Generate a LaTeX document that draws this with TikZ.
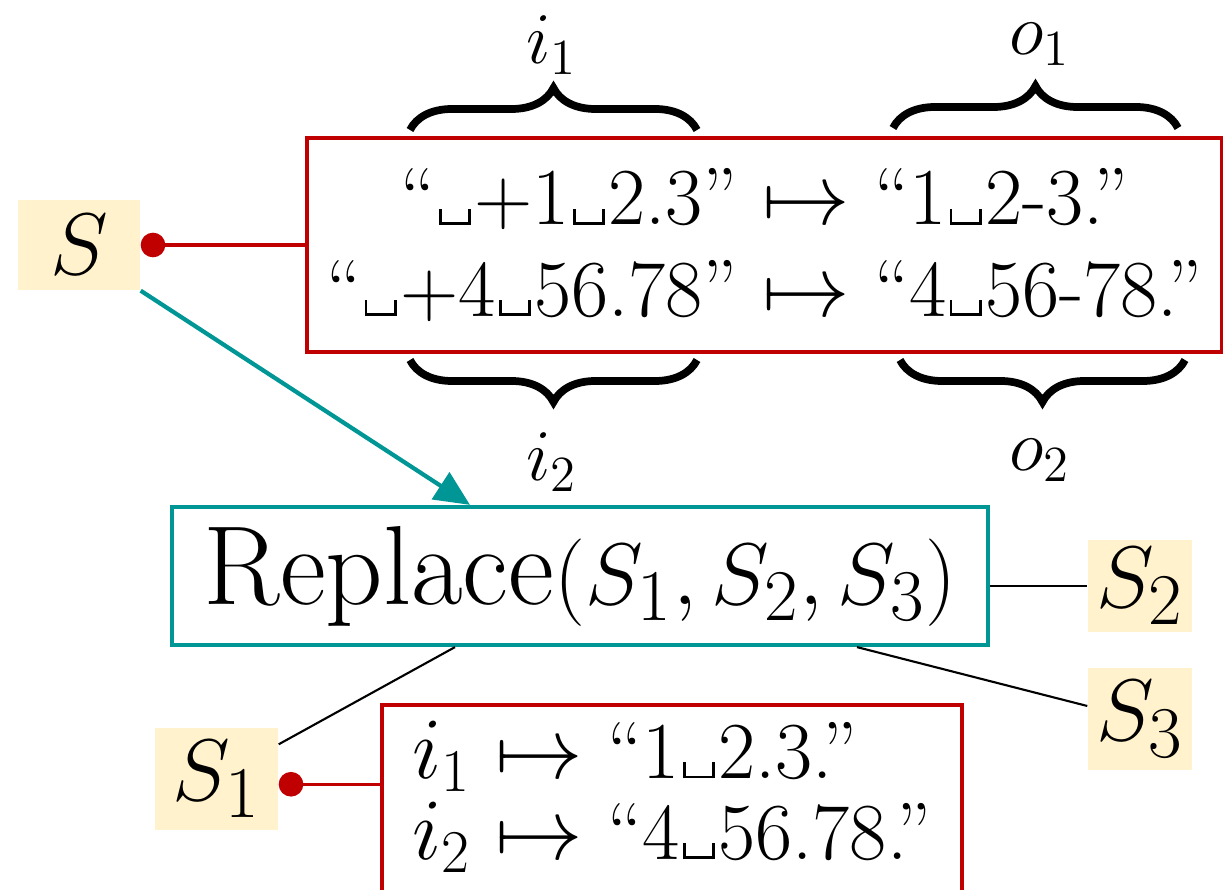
\documentclass[tikz,border=0pt]{standalone}
\usetikzlibrary{decorations.pathreplacing,arrows.meta}
\definecolor{exred}{RGB}{192,0,0}
\definecolor{opteal}{RGB}{0,150,150}
\definecolor{varfill}{RGB}{255,242,204}
\newcommand{\vsp}{\kern0.04em\rule{0.035em}{0.2em}\rule{0.33em}{0.035em}\rule{0.035em}{0.2em}\kern0.04em}

\begin{document}
\begin{tikzpicture}[
        var/.style={fill=varfill,inner sep=0pt,font=\fontsize{32}{36}\selectfont},
        exbox/.style={draw=exred,line width=1.2pt,font=\fontsize{23}{26}\selectfont},
        exlink/.style={exred,line width=1pt,{Circle[length=7pt]}-},
        brc/.style={decorate,decoration={brace,amplitude=0.42cm},line width=2.2pt},
        lab/.style={font=\fontsize{22}{25}\selectfont}]
    \useasboundingbox (0,0) rectangle (12.23,-8.90);
    % variables
    \node[var,minimum width=1.22cm,minimum height=0.90cm] (S) at (0.79,-2.45) {$S$};
    \node[var,minimum width=1.23cm,minimum height=1.02cm] (S1) at (2.165,-7.79) {$S_1$};
    \node[var,minimum width=1.04cm,minimum height=0.92cm] (S2) at (11.40,-5.86) {$S_2$};
    \node[var,minimum width=1.04cm,minimum height=1.02cm] (S3) at (11.40,-7.19) {$S_3$};
    % examples
    \node[exbox,align=center,minimum width=9.15cm,minimum height=2.14cm] (ex) at (7.645,-2.45)
        {``\vsp+1\vsp2.3'' $\mapsto$ ``1\vsp2-3.''\\
         ``\vsp+4\vsp56.78'' $\mapsto$ ``4\vsp56-78.''};
    \node[exbox,align=left,anchor=north west,minimum width=5.80cm,inner xsep=0.3cm,inner ysep=0.16cm,
          font=\fontsize{23}{23}\selectfont] (ex1) at (3.80,-7.03)
        {$i_1\mapsto$ ``1\vsp2.3.''\\
         $i_2\mapsto$ ``4\vsp56.78.''\rule[-0.8em]{0pt}{0pt}};
    % operator
    \node[draw=opteal,line width=1.2pt,minimum width=8.16cm,minimum height=1.38cm,
          font=\fontsize{32}{36}\selectfont] (rep) at (5.80,-5.76) {Replace$(S_1,S_2,S_3)$};
    % braces
    \draw[brc] (4.10,-1.30) -- (6.97,-1.30);
    \draw[brc] (8.93,-1.28) -- (11.78,-1.28);
    \draw[brc] (6.97,-3.60) -- (4.10,-3.60);
    \draw[brc] (11.85,-3.60) -- (9.00,-3.60);
    \node[lab] (li1) at (5.52,-0.45) {$i_1$};
    \node[lab] (lo1) at (10.40,-0.44) {$o_1$};
    \node[lab] (li2) at (5.52,-4.62) {$i_2$};
    \node[lab] (lo2) at (10.40,-4.60) {$o_2$};
    % connectors
    \draw[exlink] (S.east) -- (ex.west);
    \draw[exlink] ([yshift=-1.5pt]S1.east) -- ([yshift=-1.5pt]S1.east -| ex1.west);
    \draw[opteal,line width=1.2pt,-{Triangle[length=10pt,width=9pt]}] (S.south east) -- ([xshift=-1.1cm]rep.north);
    \draw[line width=0.6pt] (S2.west -| rep.east) -- (S2.west);
    \draw[line width=0.6pt] ([xshift=2.77cm]rep.south) -- ([yshift=0.13cm]S3.west);
    \draw[line width=0.6pt] ([xshift=-1.25cm]rep.south) -- ([yshift=-0.17cm]S1.north east);
\end{tikzpicture}
\end{document}
